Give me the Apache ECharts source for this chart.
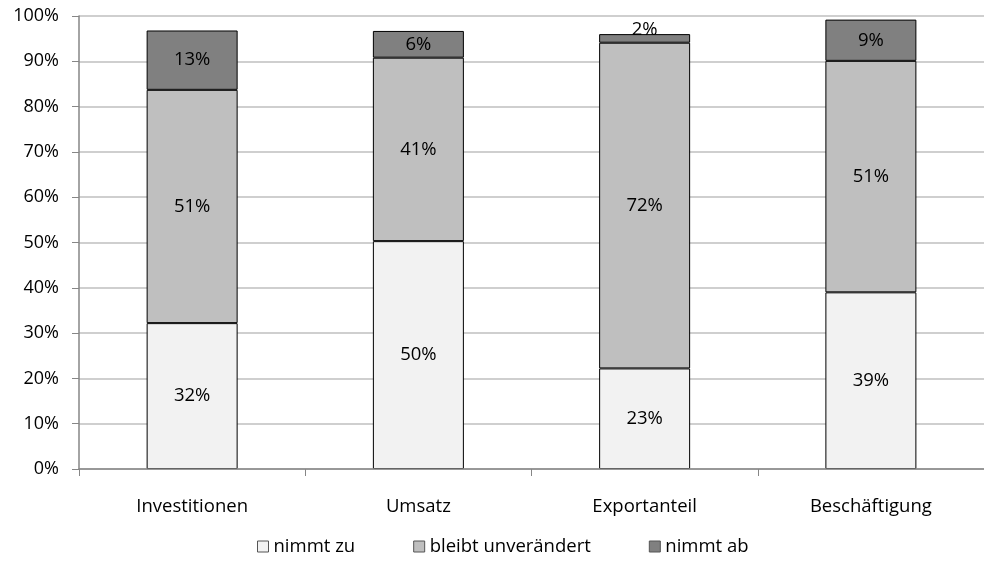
<!DOCTYPE html>
<html>
<head>
<meta charset="utf-8">
<script src="https://cdn.jsdelivr.net/npm/echarts@6/dist/echarts.min.js"></script>
<style>
  html, body { margin: 0; padding: 0; background: #fff; }
  #chart { width: 984px; height: 567px; }
</style>
</head>
<body>
<div id="chart"></div>
<script>
// categories and shares (in %)
const categories = ['Investitionen', 'Umsatz', 'Exportanteil', 'Beschäftigung'];
const nimmtZu = [32.2, 50.3, 22.2, 39.0];
const bleibt = [51.5, 40.5, 71.9, 51.1];
const nimmtAb = [13.1, 5.9, 1.9, 9.1];
// labels as printed in the chart
const nimmtZuLabels = ['32%', '50%', '23%', '39%'];
const bleibtLabels = ['51%', '41%', '72%', '51%'];
const nimmtAbLabels = ['13%', '6%', '2%', '9%'];
const yTicks = [0, 10, 20, 30, 40, 50, 60, 70, 80, 90, 100];

const font = '"Open Sans", sans-serif';

function makeSeries(name, values, labels, color) {
  return {
    name: name,
    type: 'bar',
    stack: 'total',
    barWidth: 91,
    data: values.map((v, i) => {
      const item = { value: v };
      // the tiny 2% segment has its label pushed up
      if (v < 3) item.label = { offset: [0, -9] };
      return item;
    }),
    itemStyle: { color: color, borderColor: '#000', borderWidth: 1 },
    label: {
      show: true,
      position: 'inside',
      color: '#000',
      fontFamily: font,
      fontSize: 18.5,
      formatter: (p) => labels[p.dataIndex],
    },
  };
}

const chart = echarts.init(document.getElementById('chart'));
chart.setOption({
  animation: false,
  backgroundColor: '#fff',
  textStyle: { fontFamily: font },
  grid: { left: 79, top: 16, width: 918, height: 453, containLabel: false },
  legend: {
    bottom: 6,
    left: 252,
    itemWidth: 11,
    itemHeight: 11,
    itemGap: 58,
    icon: 'rect',
    textStyle: { fontFamily: font, fontSize: 18.5, color: '#000' },
    data: ['nimmt zu', 'bleibt unverändert', 'nimmt ab'],
    itemStyle: { borderColor: '#555', borderWidth: 1 },
  },
  xAxis: {
    type: 'category',
    data: categories,
    z: 5,
    axisLine: { lineStyle: { color: '#868686', width: 1.5 } },
    axisTick: { show: true, length: 7, lineStyle: { color: '#868686' } },
    axisLabel: { color: '#000', fontFamily: font, fontSize: 18.5, margin: 28 },
  },
  yAxis: {
    type: 'value',
    min: 0,
    max: 100,
    interval: 10,
    axisLine: { show: true, lineStyle: { color: '#868686', width: 1.5 } },
    axisTick: { show: true, length: 7, lineStyle: { color: '#868686' } },
    axisLabel: {
      color: '#000',
      fontFamily: font,
      fontSize: 18,
      margin: 20,
      formatter: (v) => (yTicks.includes(v) ? v + '%' : ''),
    },
    splitLine: { lineStyle: { color: '#bfbfbf', width: 1.5 } },
  },
  series: [
    makeSeries('nimmt zu', nimmtZu, nimmtZuLabels, '#f2f2f2'),
    makeSeries('bleibt unverändert', bleibt, bleibtLabels, '#bfbfbf'),
    makeSeries('nimmt ab', nimmtAb, nimmtAbLabels, '#808080'),
  ],
});
</script>
</body>
</html>
